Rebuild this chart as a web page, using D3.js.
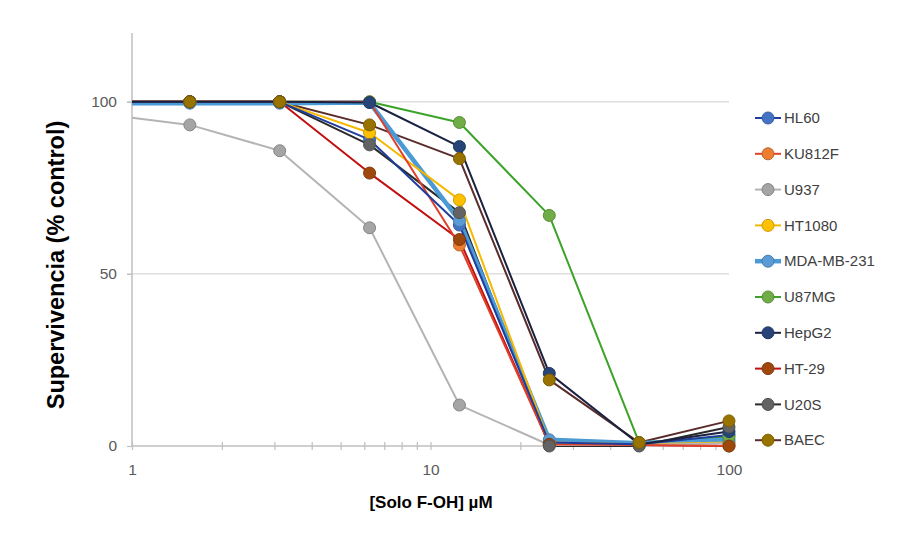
<!DOCTYPE html>
<html>
<head>
<meta charset="utf-8">
<script src="https://cdn.jsdelivr.net/npm/d3@7"></script>
<style>
  body { margin: 0; background: #fff; }
  text { font-family: "Liberation Sans", Arial, sans-serif; }
</style>
</head>
<body>
<div id="chart"></div>
<script>
// concentrations (µM); first point lies left of the axis and is clipped
var conc = [0.78125, 1.5625, 3.125, 6.25, 12.5, 25, 50, 100];

var names = ["HL60", "KU812F", "U937", "HT1080", "MDA-MB-231", "U87MG", "HepG2", "HT-29", "U20S", "BAEC"];

var hl60     = [100, 100, 100, 89,   64.2, 1.0,  0.5, 3.2];
var ku812f   = [100, 100, 100, 100,  58.4, 0.5,  0.3, 0];
var u937     = [96.5, 93.3, 85.8, 63.4, 11.9, 0.3, 0.3, 0.8];
var ht1080   = [100, 100, 100, 91,   71.5, 1.0,  0.5, 1.0];
var mda      = [99.6, 99.6, 99.6, 99.8, 65.5, 1.8, 0.8, 1.8];
var u87mg    = [100, 100, 100, 100,  94,   67,   1.0, 2.7];
var hepg2    = [100, 100, 100, 99.8, 87,   21.1, 0.5, 4.2];
var ht29     = [100, 100, 100, 79.3, 60,   0.5,  0.3, 0];
var u20s     = [100, 100, 100, 87.5, 67.8, 0,    0,   5.5];
var baec     = [100, 100, 100, 93.3, 83.5, 19.2, 1.0, 7.3];

var yTicks = [0, 50, 100];
var xLabels = [1, 10, 100];

var seriesValues = [hl60, ku812f, u937, ht1080, mda, u87mg, hepg2, ht29, u20s, baec];
var lineColors   = ["#1f3e9c", "#e0402a", "#b4b4b4", "#f5b800", "#4a9ad6", "#3ca32a", "#1a2240", "#c01010", "#2a2a2a", "#5a2c2c"];
var markColors   = ["#4472c4", "#ed7d31", "#a5a5a5", "#ffc000", "#5b9bd5", "#70ad47", "#264478", "#9e480e", "#636363", "#997300"];
var lineWidths   = [2, 2, 2, 2, 4.5, 2, 2, 2, 2, 2];

var series = names.map(function (n, i) {
  return {
    name: n,
    line: lineColors[i],
    mark: markColors[i],
    w: lineWidths[i],
    values: conc.map(function (c, j) { return { x: c, y: seriesValues[i][j] }; })
  };
});

var W = 907, H = 535;
var svg = d3.select("#chart").append("svg").attr("width", W).attr("height", H);

var x = d3.scaleLog().domain([1, 100]).range([132, 729]);
var y = d3.scaleLinear().domain([0, 120]).range([446, 33]);

// gridlines
svg.append("g")
  .selectAll("line")
  .data([50, 100])
  .join("line")
  .attr("x1", 127).attr("x2", 729)
  .attr("y1", function (d) { return y(d); })
  .attr("y2", function (d) { return y(d); })
  .attr("stroke", "#d9d9d9")
  .attr("stroke-width", 1.2);

// y axis
var yAxis = svg.append("g")
  .attr("transform", "translate(132,0)")
  .call(d3.axisLeft(y).tickValues(yTicks).tickSize(5).tickPadding(10));
yAxis.select(".domain").attr("stroke", "#bfbfbf").attr("stroke-width", 1.5)
  .attr("d", "M0," + y(120) + "V" + y(0));
yAxis.selectAll(".tick line").attr("stroke", "#bfbfbf").attr("stroke-width", 1.2);
yAxis.selectAll(".tick text").attr("fill", "#595959").style("font-size", "15.5px");

// x axis with log minor ticks crossing the line
var logTicks = x.ticks();
var xAxis = svg.append("g")
  .attr("transform", "translate(0," + y(0) + ")")
  .call(d3.axisBottom(x).tickValues(logTicks).tickSize(4).tickPadding(14)
    .tickFormat(function (d) { return xLabels.indexOf(d) >= 0 ? d : ""; }));
xAxis.select(".domain").attr("stroke", "#bfbfbf").attr("stroke-width", 1.5)
  .attr("d", "M" + x(1) + ",0H" + x(100));
xAxis.selectAll(".tick line").attr("stroke", "#bfbfbf").attr("stroke-width", 1.2)
  .attr("y1", -4).attr("y2", 4);
xAxis.selectAll(".tick text").attr("fill", "#595959").style("font-size", "15.5px");

// clip for the plot
svg.append("defs").append("clipPath").attr("id", "clip")
  .append("rect").attr("x", x(1)).attr("y", 0).attr("width", x(100) - x(1) + 10).attr("height", H);

var line = d3.line()
  .x(function (d) { return x(d.x); })
  .y(function (d) { return y(d.y); });

var plot = svg.append("g").attr("clip-path", "url(#clip)");

// lines drawn last-to-first, with HepG2 moved on top along the 100 % run
var lineOrder = series.slice().reverse().filter(function (d) { return d.name !== "HepG2"; });
lineOrder.push(series[names.indexOf("HepG2")]);

plot.selectAll("path.series")
  .data(lineOrder)
  .join("path")
  .attr("class", "series")
  .attr("fill", "none")
  .attr("stroke", function (d) { return d.line; })
  .attr("stroke-width", function (d) { return d.w; })
  .attr("stroke-linejoin", "round")
  .attr("d", function (d) { return line(d.values); });

series.forEach(function (s) {
  plot.append("g")
    .selectAll("circle")
    .data(s.values.filter(function (d) { return d.x >= 1; }))
    .join("circle")
    .attr("cx", function (d) { return x(d.x); })
    .attr("cy", function (d) { return y(d.y); })
    .attr("r", 6)
    .attr("fill", s.mark)
    .attr("stroke", d3.color(s.mark).darker(0.6))
    .attr("stroke-width", 1);
});

// legend
var legend = svg.append("g").attr("transform", "translate(755,118)");
var item = legend.selectAll("g")
  .data(series)
  .join("g")
  .attr("transform", function (d, i) { return "translate(0," + i * 35.8 + ")"; });
item.append("line")
  .attr("x1", 0).attr("x2", 26)
  .attr("stroke", function (d) { return d.line; })
  .attr("stroke-width", function (d) { return d.w; });
item.append("circle")
  .attr("cx", 13).attr("r", 6)
  .attr("fill", function (d) { return d.mark; })
  .attr("stroke", function (d) { return d3.color(d.mark).darker(0.6); });
item.append("text")
  .attr("x", 29).attr("dy", "0.35em")
  .attr("fill", "#404040")
  .style("font-size", "15px")
  .text(function (d) { return d.name; });

// axis titles
svg.append("text")
  .attr("transform", "translate(64,265) rotate(-90)")
  .attr("text-anchor", "middle")
  .style("font-size", "23.5px")
  .style("font-weight", "bold")
  .attr("fill", "#000")
  .text("Supervivencia (% control)");

svg.append("text")
  .attr("x", 431).attr("y", 508)
  .attr("text-anchor", "middle")
  .style("font-size", "17px")
  .style("font-weight", "bold")
  .attr("fill", "#000")
  .text("[Solo F-OH] µM");
</script>
</body>
</html>
